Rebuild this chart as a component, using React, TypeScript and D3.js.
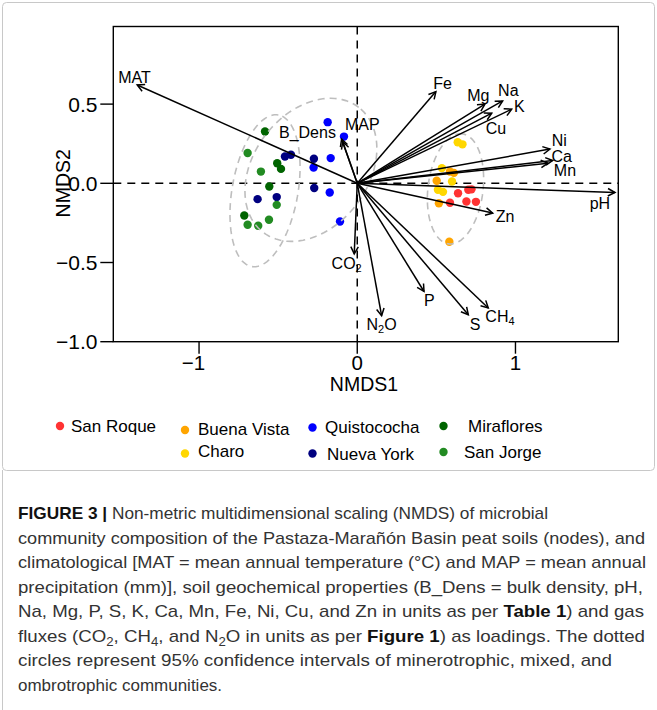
import React from 'react'
import * as d3 from 'd3'

// NMDS site scores per site (NMDS1, NMDS2)
const sanRoque = [[0.637, -0.063], [0.702, -0.041], [0.722, -0.038], [0.586, -0.123], [0.69, -0.115], [0.75, -0.117]]
const buenaVista = [[0.586, 0.074], [0.611, 0.066], [0.502, 0.016], [0.516, -0.126], [0.582, -0.369]]
const charo = [[0.635, 0.259], [0.665, 0.246], [0.535, 0.096], [0.599, 0.011], [0.51, -0.041], [0.542, -0.054]]
const quistococha = [[-0.187, 0.386], [-0.084, 0.295], [-0.168, 0.159], [-0.276, 0.1], [-0.174, -0.058], [-0.109, -0.241]]
const nuevaYork = [[-0.457, 0.169], [-0.419, 0.18], [-0.274, 0.155], [-0.272, -0.03], [-0.63, -0.1], [-0.509, -0.087]]
const miraflores = [[-0.583, 0.327], [-0.506, 0.127], [-0.482, 0.091], [-0.556, -0.02], [-0.714, -0.203]]
const sanJorge = [[-0.693, 0.191], [-0.609, 0.074], [-0.509, -0.136], [-0.693, -0.262], [-0.626, -0.268], [-0.558, -0.23]]

const siteNames = ['San Roque', 'Buena Vista', 'Charo', 'Quistococha', 'Nueva York', 'Miraflores', 'San Jorge']
const siteColors = ['#ff3333', '#ffa500', '#ffd700', '#0000ff', '#000080', '#006400', '#228b22']
const siteScores = [sanRoque, buenaVista, charo, quistococha, nuevaYork, miraflores, sanJorge]

// envfit loadings: arrow tip and label spot, both in NMDS units
const loadNames = ['MAT', 'MAP', 'B_Dens', 'Fe', 'Mg', 'Na', 'K', 'Cu', 'Ni', 'Ca', 'Mn', 'pH', 'Zn', 'CO2', 'N2O', 'P', 'S', 'CH4']
const loadX = [-1.391, -0.099, -0.092, 0.497, 0.807, 0.919, 0.976, 0.85, 1.218, 1.235, 1.206, 1.629, 0.856, -0.019, 0.154, 0.422, 0.702, 0.828]
const loadY = [0.621, 0.279, 0.262, 0.579, 0.5, 0.52, 0.468, 0.443, 0.216, 0.144, 0.127, -0.058, -0.188, -0.445, -0.836, -0.683, -0.83, -0.787]
const labelX = [-1.408, 0.032, -0.315, 0.54, 0.765, 0.955, 1.024, 0.877, 1.277, 1.292, 1.313, 1.534, 0.934, -0.067, 0.154, 0.455, 0.744, 0.902]
const labelY = [0.669, 0.372, 0.32, 0.632, 0.558, 0.585, 0.485, 0.348, 0.272, 0.172, 0.082, -0.125, -0.209, -0.503, -0.893, -0.739, -0.893, -0.84]

// 95% confidence ellipses: centre, semi axes, rotation (deg)
const ellipseCx = [-0.583, -0.293, 0.621]
const ellipseCy = [-0.047, 0.085, -0.035]
const ellipseA = [0.486, 0.497, 0.35]
const ellipseB = [0.208, 0.362, 0.174]
const ellipseRot = [80, 52.6, 83]

const xTicks = [-1, 0, 1]
const yTicks = [-1.0, -0.5, 0.0, 0.5]

const captionLines = [
  [{ t: 'FIGURE 3 | ', b: true }, { t: 'Non-metric multidimensional scaling (NMDS) of microbial' }],
  [{ t: 'community composition of the Pastaza-Marañón Basin peat soils (nodes), and' }],
  [{ t: 'climatological [MAT = mean annual temperature (°C) and MAP = mean annual' }],
  [{ t: 'precipitation (mm)], soil geochemical properties (B_Dens = bulk density, pH,' }],
  [{ t: 'Na, Mg, P, S, K, Ca, Mn, Fe, Ni, Cu, and Zn in units as per ' }, { t: 'Table 1', b: true }, { t: ') and gas' }],
  [{ t: 'fluxes (CO' }, { t: '2', s: true }, { t: ', CH' }, { t: '4', s: true }, { t: ', and N' }, { t: '2', s: true }, { t: 'O in units as per ' }, { t: 'Figure 1', b: true }, { t: ') as loadings. The dotted' }],
  [{ t: 'circles represent 95% confidence intervals of minerotrophic, mixed, and' }],
  [{ t: 'ombrotrophic communities.' }],
]
const captionWidths = [530, 627, 628, 625, 626, 627, 594, 0]

const FONT = '"Liberation Sans", Arial, Helvetica, sans-serif'

function chemLabel(name: string) {
  const m = name.match(/^([A-Z][a-z]?)(\d)(.*)$/) || name.match(/^(CH|CO)(\d)()$/)
  if (!m) return name
  return (
    <>
      {m[1]}
      <tspan fontSize={11} dy={3}>{m[2]}</tspan>
      {m[3] ? <tspan dy={-3}>{m[3]}</tspan> : null}
    </>
  )
}

export default function App() {
  const width = 657
  const height = 710
  const left = 113.3, right = 618.3, top = 26.5, bottom = 341.7

  const x = d3.scaleLinear().domain([-1.542, 1.65]).range([left, right])
  const y = d3.scaleLinear().domain([-1.0, 0.99]).range([bottom, top])

  const ellipsePaths = ellipseCx.map((cx, i) => {
    const th = (ellipseRot[i] * Math.PI) / 180
    const pts: [number, number][] = d3.range(0, 101).map(k => {
      const t = (k / 100) * Math.PI * 2
      const ex = cx + ellipseA[i] * Math.cos(t) * Math.cos(th) - ellipseB[i] * Math.sin(t) * Math.sin(th)
      const ey = ellipseCy[i] + ellipseA[i] * Math.cos(t) * Math.sin(th) + ellipseB[i] * Math.sin(t) * Math.cos(th)
      return [x(ex), y(ey)]
    })
    return d3.line()(pts) as string
  })

  const x0 = x(0), y0 = y(0)
  const arrows = loadNames.map((name, i) => {
    const tx = x(loadX[i]), ty = y(loadY[i])
    const ang = Math.atan2(ty - y0, tx - x0)
    const hl = 8, ha = (28 * Math.PI) / 180
    const h1 = [tx - hl * Math.cos(ang - ha), ty - hl * Math.sin(ang - ha)]
    const h2 = [tx - hl * Math.cos(ang + ha), ty - hl * Math.sin(ang + ha)]
    return { name, tx, ty, head: `M${h1[0]},${h1[1]}L${tx},${ty}L${h2[0]},${h2[1]}`, lx: x(labelX[i]), ly: y(labelY[i]) }
  })

  // legend layout: column x, row y for each site
  const legendDotX = [60, 185, 185, 312.5, 312.5, 443.5, 443.5]
  const legendDotY = [426, 430, 453.5, 427.5, 453.5, 426, 452]
  const legendTextX = [71, 198, 198, 325, 327, 468, 464]
  const legendTextY = [426, 428.5, 451, 427, 453.5, 425.5, 451.5]

  return (
    <svg width={width} height={height} style={{ position: 'absolute', left: 0, top: 0, background: '#fff' }} fontFamily={FONT}>
      {/* frame */}
      <rect x={2.5} y={2.5} width={652} height={468} rx={4} fill="none" stroke="#c8c8c8" strokeWidth={1} />
      <line x1={2.5} x2={2.5} y1={470} y2={710} stroke="#c8c8c8" strokeWidth={1} />

      {/* zero lines */}
      <line x1={left} x2={right} y1={y0} y2={y0} stroke="#000" strokeWidth={1.5} strokeDasharray="8,6" />
      <line x1={x0} x2={x0} y1={top} y2={bottom} stroke="#000" strokeWidth={1.5} strokeDasharray="8,6" />

      {/* site points */}
      {siteScores.map((pts, i) =>
        pts.map((p, j) => <circle key={`${i}-${j}`} cx={x(p[0])} cy={y(p[1])} r={4.2} fill={siteColors[i]} />)
      )}

      {/* ellipses */}
      {ellipsePaths.map((d, i) => (
        <path key={i} d={d} fill="none" stroke="#bebebe" strokeWidth={1.6} strokeDasharray="7,5" />
      ))}

      {/* loadings */}
      {arrows.map(a => (
        <g key={a.name} stroke="#000" strokeWidth={1.5} fill="none">
          <line x1={x0} y1={y0} x2={a.tx} y2={a.ty} />
          <path d={a.head} />
        </g>
      ))}
      {arrows.map(a => (
        <text key={a.name + 'l'} x={a.lx} y={a.ly} dy="0.35em" textAnchor="middle" fontSize={16} fill="#000">
          {chemLabel(a.name)}
        </text>
      ))}

      {/* box + axes */}
      <rect x={left} y={top} width={right - left} height={bottom - top} fill="none" stroke="#000" strokeWidth={1.4} />
      {xTicks.map(t => (
        <g key={'x' + t}>
          <line x1={x(t)} x2={x(t)} y1={bottom} y2={bottom + 12} stroke="#000" strokeWidth={1.4} />
          {t < 0 ? (
            <text x={x(t) + 6} y={370} textAnchor="end" fontSize={20.5}>{'\u2212' + Math.abs(t)}</text>
          ) : (
            <text x={x(t)} y={370} textAnchor="middle" fontSize={20.5}>{t}</text>
          )}
        </g>
      ))}
      {yTicks.map(t => (
        <g key={'y' + t}>
          <line x1={left - 13} x2={left} y1={y(t)} y2={y(t)} stroke="#000" strokeWidth={1.4} />
          <text x={97.5} y={y(t)} dy="0.36em" textAnchor="end" fontSize={21}>
            {(t < 0 ? '\u2212' : '') + d3.format('.1f')(Math.abs(t))}
          </text>
        </g>
      ))}
      <text x={364} y={391} textAnchor="middle" fontSize={19.5}>NMDS1</text>
      <text transform={`translate(70,${y0}) rotate(-90)`} textAnchor="middle" fontSize={19.5}>NMDS2</text>

      {/* legend */}
      {siteNames.map((n, i) => (
        <g key={n}>
          <circle cx={legendDotX[i]} cy={legendDotY[i]} r={4.2} fill={siteColors[i]} />
          <text x={legendTextX[i]} y={legendTextY[i]} dy="0.36em" fontSize={17}>{n}</text>
        </g>
      ))}

      {/* caption */}
      {captionLines.map((segs, i) => (
        <text
          key={'c' + i}
          x={18}
          y={519 + i * 24.5}
          fontSize={17}
          fill="#333"
          {...(captionWidths[i] ? { textLength: captionWidths[i], lengthAdjust: 'spacingAndGlyphs' } : {})}
        >
          {segs.map((s: any, k) => (
            <tspan
              key={k}
              fontWeight={s.b ? 'bold' : 'normal'}
              fill={s.b ? '#111' : '#333'}
              fontSize={s.s ? 12 : 17}
              dy={s.s ? 4 : k > 0 && segs[k - 1] && (segs[k - 1] as any).s ? -4 : 0}
            >
              {s.t}
            </tspan>
          ))}
        </text>
      ))}
    </svg>
  )
}
